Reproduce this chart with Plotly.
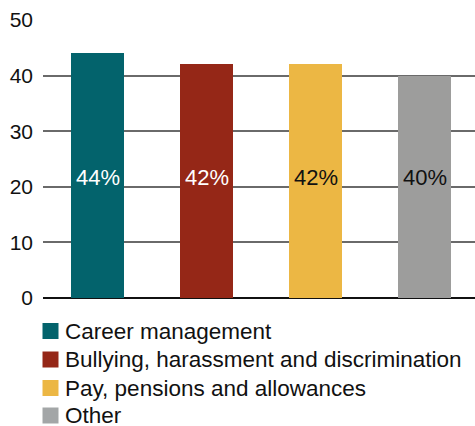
import plotly.graph_objects as go

# Share of complaints by category
categories = ["Career management", "Bullying, harassment and discrimination",
              "Pay, pensions and allowances", "Other"]
values = [44, 42, 42, 40]
bar_colors = ["#03636c", "#952717", "#ecb744", "#9d9d9c"]
label_colors = ["#ffffff", "#ffffff", "#111111", "#111111"]
legend_colors = ["#03636c", "#952717", "#ecb744", "#a3a6a7"]
y_ticks = [0, 10, 20, 30, 40, 50]

W, H = 475, 426
ML, MR, MT, MB = 43, 0, 20, 128
PW, PH = W - ML - MR, H - MT - MB
FONT = "Liberation Sans, Arial, Helvetica, sans-serif"


def px_x(px):
    return (px - ML) / PW


def px_y(py):
    return (H - MB - py) / PH


xs = list(range(len(categories)))

fig = go.Figure()
fig.add_trace(go.Bar(
    x=xs,
    y=values,
    marker=dict(color=bar_colors, line=dict(width=0)),
    width=0.486,
    showlegend=False,
    hoverinfo="skip",
))

shapes, annotations = [], []

# Value labels sit on a common line at half the tallest bar
label_y = max(values) / 2 - 0.4
for x, v, c in zip(xs, values, label_colors):
    annotations.append(dict(x=x, y=label_y, xref="x", yref="y", text=f"{v}%",
                            showarrow=False, xanchor="center", yanchor="middle",
                            font=dict(family=FONT, size=22, color=c)))

# Legend rows below the plot
row_centers = [331, 359.5, 388, 415.5]
for name, col, cy in zip(categories, legend_colors, row_centers):
    shapes.append(dict(type="rect", xref="paper", yref="paper",
                       x0=px_x(42.5), x1=px_x(58.5), y0=px_y(cy + 8), y1=px_y(cy - 8),
                       fillcolor=col, line=dict(width=0)))
    annotations.append(dict(xref="paper", yref="paper", x=px_x(64), y=px_y(cy),
                            xanchor="left", yanchor="middle", showarrow=False,
                            borderpad=0,
                            text=name, font=dict(family=FONT, size=22.5, color="#111111")))

fig.update_layout(
    width=W, height=H,
    margin=dict(l=ML, r=MR, t=MT, b=MB, pad=0),
    paper_bgcolor="white", plot_bgcolor="white",
    bargap=0,
    shapes=shapes,
    annotations=annotations,
    xaxis=dict(range=[-0.5, -0.5 + PW / 109], showticklabels=False, showgrid=False,
               zeroline=False, showline=False, ticks=""),
    yaxis=dict(range=[0, 50], tickvals=y_ticks, showgrid=True, gridcolor="#6a6a6a",
               gridwidth=1.5, zeroline=True, zerolinecolor="#111111", zerolinewidth=2,
               showline=False, ticks="", ticklabelstandoff=9,
               tickfont=dict(family=FONT, size=21, color="#111111")),
)

fig.write_html("out.html")
